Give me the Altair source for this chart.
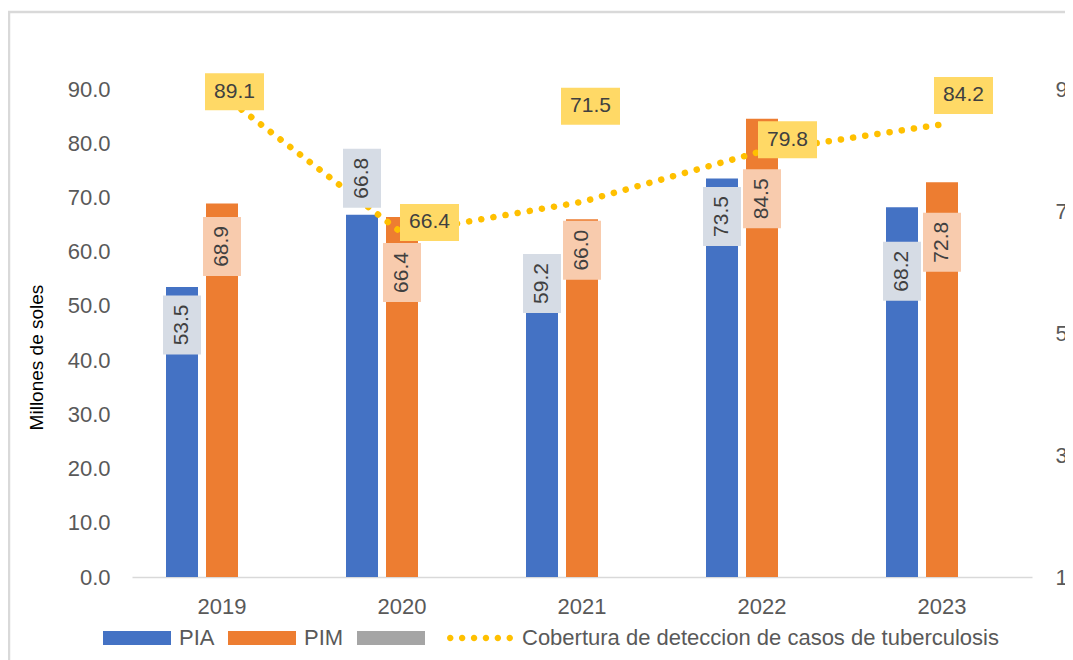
import altair as alt
import pandas as pd

# ---------------- data ----------------
years = ["2019", "2020", "2021", "2022", "2023"]
pia = [53.5, 66.8, 59.2, 73.5, 68.2]
pim = [68.9, 66.4, 66.0, 84.5, 72.8]
cobertura = [89.1, 66.4, 71.5, 79.8, 84.2]

series_names = ["PIA", "PIM", "_", "Cobertura de deteccion de casos de tuberculosis"]
series_colors = ["#4472C4", "#ED7D31", "#A5A5A5", "#FFC000"]

# label nudges in pixels (label placement as in the original)
pia_label_nudge = [38, -36.5, 27.5, 38, 64]
pim_label_nudge = [43, 55.5, 31, 80, 60]
cov_label_dx = [12.5, 27.5, 8.5, 25.5, 21.5]
cov_label_dy = [-2.7, -10.5, -95.5, -11.5, -29]

# ---------------- layout ----------------
W, H = 900, 488
FONT = "Liberation Sans"
PPU1 = H / 90.0
PPU2 = H / 80.0
HALF_BAND = W / 5 * (2 / 3) / 2  # half of the x band width

rows = []
for i, yr in enumerate(years):
    rows.append({"year": yr, "serie": "PIA", "value": pia[i], "nudge": pia_label_nudge[i]})
    rows.append({"year": yr, "serie": "PIM", "value": pim[i], "nudge": pim_label_nudge[i]})
bars_df = pd.DataFrame(rows)
line_df = pd.DataFrame({"year": years, "cov": cobertura, "dx": cov_label_dx, "dy": cov_label_dy})

x_scale = alt.Scale(domain=years, paddingInner=1 / 3, paddingOuter=1 / 6)
x_axis = alt.Axis(title=None, labelAngle=0, labelFont=FONT, labelFontSize=22,
                  labelColor="#595959", labelPadding=19, ticks=False,
                  domainColor="#D9D9D9", domainWidth=1.5, grid=False)
X = alt.X("year:N", scale=x_scale, axis=x_axis)
xo_scale = alt.Scale(domain=["PIA", "PIM", "_"], paddingInner=0.2, paddingOuter=0.1)
XO = alt.XOffset("serie:N", scale=xo_scale)

y1_scale = alt.Scale(domain=[0, 90], nice=False, zero=True)
y2_scale = alt.Scale(domain=[10, 90], nice=False, zero=False)

left_axis = alt.Axis(values=list(range(0, 91, 10)), format=".1f", labelFont=FONT,
                     labelFontSize=22, labelColor="#595959", labelPadding=22,
                     ticks=False, domain=False, grid=False,
                     title="Millones de soles", titleFont=FONT, titleFontSize=19,
                     titleFontWeight="normal", titleColor="#000000", titleAngle=270,
                     titleX=-96, titleY=268, titleAlign="center", titleBaseline="middle")
right_axis = alt.Axis(orient="right", values=[10, 30, 50, 70, 90], format=".0f",
                      labelFont=FONT, labelFontSize=22, labelColor="#595959",
                      labelPadding=23, ticks=False, domain=False, grid=False, title=None)

color_scale = alt.Scale(domain=series_names, range=series_colors)

RECT = "M-1,-0.206L1,-0.206L1,0.206L-1,0.206Z"
r = 0.095
DOTS = "".join(
    f"M{cx - r:.3f},0a{r},{r} 0 1,0 {2 * r:.3f},0a{r},{r} 0 1,0 {-2 * r:.3f},0"
    for cx in [-0.875, -0.525, -0.175, 0.175, 0.525, 0.875]
)
shape_scale = alt.Scale(domain=series_names, range=[RECT, RECT, RECT, DOTS])

legend = alt.Legend(orient="none", legendX=-29, legendY=515, direction="horizontal",
                    title=None, symbolSize=4624, symbolOpacity=1, symbolStrokeWidth=0,
                    labelFont=FONT, labelFontSize=22, labelColor="#595959",
                    labelOffset=8, columnPadding=13, labelLimit=0, padding=0,
                    labelExpr="datum.label == '_' ? '' : datum.label")

BAR_BOX = "M-0.644,-1L0.644,-1L0.644,1L-0.644,1Z"
LINE_BOX = "M-1,-0.627L1,-0.627L1,0.627L-1,0.627Z"

# ---------------- layers ----------------
frame = alt.Chart(alt.Data(values=[{}])).mark_rect(
    fillOpacity=0, stroke="#D9D9D9", strokeWidth=2.5
).encode(x=alt.value(-123), x2=alt.value(960), y=alt.value(-77), y2=alt.value(620))

legend_pts = alt.Chart(bars_df).mark_point(filled=True, opacity=0).encode(
    x=X,
    y=alt.Y("value:Q", scale=y1_scale, axis=left_axis),
    color=alt.Color("serie:N", scale=color_scale, legend=legend),
    shape=alt.Shape("serie:N", scale=shape_scale, legend=legend),
)

bars = alt.Chart(bars_df).mark_bar().encode(
    x=X, xOffset=XO,
    y=alt.Y("value:Q", scale=y1_scale, axis=None),
    color=alt.Color("serie:N", scale=color_scale, legend=None),
)

line = alt.Chart(line_df).mark_line(
    color="#FFC000", strokeWidth=6.5, strokeDash=[0.1, 12.2], strokeCap="round"
).encode(
    x=X,
    y=alt.Y("cov:Q", scale=y2_scale, axis=right_axis),
)

bar_lab_base = alt.Chart(bars_df).transform_calculate(
    lab=f"datum.value - datum.nudge / {PPU1}"
)
bar_boxes = bar_lab_base.mark_point(shape=BAR_BOX, filled=True, opacity=1, size=3481,
                                    strokeWidth=0).encode(
    x=X, xOffset=XO,
    y=alt.Y("lab:Q", scale=y1_scale, axis=None),
    fill=alt.Fill("serie:N", scale=alt.Scale(domain=["PIA", "PIM"], range=["#D6DCE5", "#F8CBAD"]),
                  legend=None),
)
bar_texts = bar_lab_base.mark_text(angle=270, font=FONT, fontSize=21, color="#404040",
                                   align="center", baseline="middle").encode(
    x=X, xOffset=XO,
    y=alt.Y("lab:Q", scale=y1_scale, axis=None),
    text=alt.Text("value:Q", format=".1f"),
)

line_lab_base = alt.Chart(line_df).transform_calculate(
    lab=f"datum.cov - datum.dy / {PPU2}",
    ox=f"datum.dx + {HALF_BAND}",
)
line_boxes = line_lab_base.mark_point(shape=LINE_BOX, filled=True, opacity=1, size=3481,
                                      strokeWidth=0, color="#FFD966").encode(
    x=X, xOffset=alt.XOffset("ox:Q", scale=None),
    y=alt.Y("lab:Q", scale=y2_scale, axis=None),
)
line_texts = line_lab_base.mark_text(font=FONT, fontSize=21, color="#404040",
                                     align="center", baseline="middle").encode(
    x=X, xOffset=alt.XOffset("ox:Q", scale=None),
    y=alt.Y("lab:Q", scale=y2_scale, axis=None),
    text=alt.Text("cov:Q", format=".1f"),
)

chart = alt.layer(
    frame, legend_pts, bars, line, bar_boxes, bar_texts, line_boxes, line_texts
).resolve_scale(
    y="independent"
).properties(
    width=W, height=H,
    autosize=alt.AutoSizeParams(type="none"),
    padding={"left": 124, "top": 81, "right": 33, "bottom": 83},
).configure_view(stroke=None)

chart.save("out.html", embed_options={"renderer": "svg", "actions": False})
